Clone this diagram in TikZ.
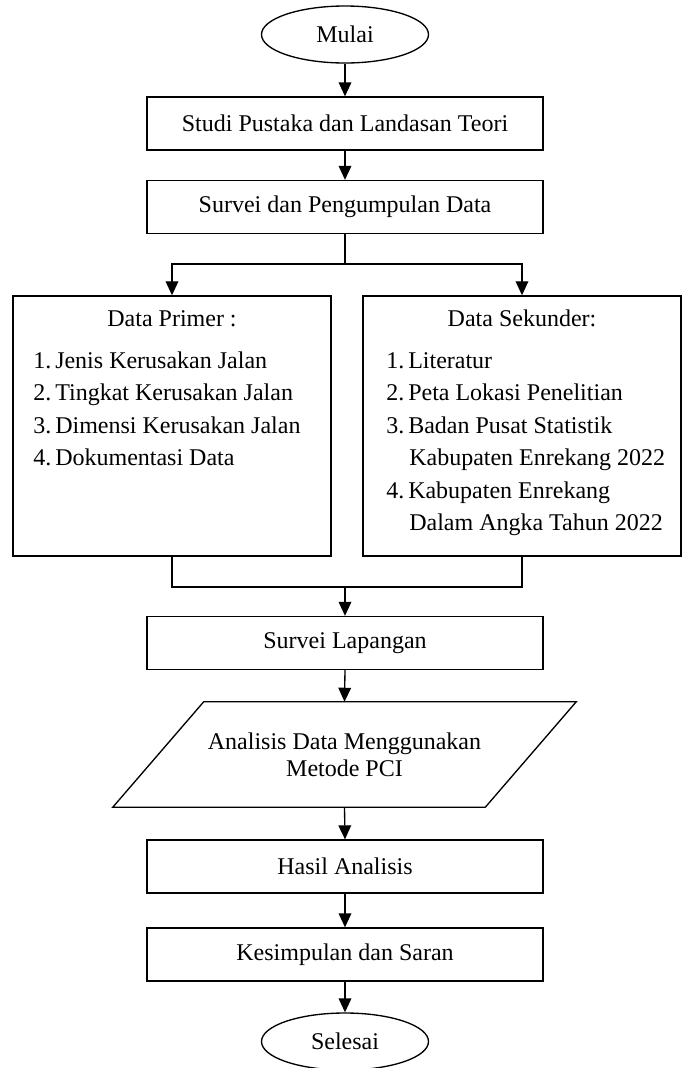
\documentclass[tikz,border=0pt]{standalone}
\usepackage{fontspec}
\setmainfont{Liberation Serif}
\usetikzlibrary{shapes.geometric,arrows.meta}
\begin{document}
\begin{tikzpicture}[x=0.75pt,y=-0.75pt,
  every node/.style={font=\fontsize{18}{24.4}\selectfont, inner sep=0pt},
  line/.style={line width=1pt},
  arr/.style={line width=1pt,-{Triangle[length=10.5pt,width=9.5pt]}},
  procbox/.style={draw,line width=1pt,rectangle,minimum width=297pt,minimum height=39.75pt},
  bigbox/.style={draw,line width=1.1pt,rectangle,minimum width=238.5pt,minimum height=195pt},
  term/.style={draw,line width=1pt,ellipse,minimum width=125.25pt,minimum height=42.75pt},
  item/.style={anchor=west,text height=0.7em,text depth=0.22em}]
\useasboundingbox (0,0) rectangle (686,1068);

\node[term] (mulai) at (345,34.5) {Mulai};
\node[procbox] (studi) at (345,123.5) {Studi Pustaka dan Landasan Teori};
\node[procbox] (survei) at (345,207) {Survei dan Pengumpulan Data};

\node[bigbox] (primer) at (172,426) {};
\node[bigbox] (sekunder) at (522,426) {};

\node[text height=0.7em,text depth=0.22em] (ph) at (172,323) {Data Primer :};
\node[item] (p1) at (33,365) {1.\,Jenis Kerusakan Jalan};
\node[item] (p2) at (33,397.5) {2.\,Tingkat Kerusakan Jalan};
\node[item] (p3) at (33,430) {3.\,Dimensi Kerusakan Jalan};
\node[item] (p4) at (33,462.5) {4.\,Dokumentasi Data};

\node[text height=0.7em,text depth=0.22em] (sh) at (522,323) {Data Sekunder:};
\node[item] (s1) at (386,365) {1.\,Literatur};
\node[item] (s2) at (386,397.5) {2.\,Peta Lokasi Penelitian};
\node[item] (s3) at (386,430) {3.\,Badan Pusat Statistik};
\node[item] (s3b) at (409,462.5) {Kabupaten Enrekang 2022};
\node[item] (s4) at (386,495) {4.\,Kabupaten Enrekang};
\node[item] (s4b) at (409,527.5) {Dalam Angka Tahun 2022};

\node[procbox] (lapangan) at (345,643) {Survei Lapangan};
\node[minimum width=210.75pt,minimum height=78.75pt,align=center,
      font=\fontsize{18}{20.25}\selectfont] (ana) at (344.5,754.5)
      {Analisis Data Menggunakan\\Metode PCI};
\draw[line] (ana.north west) -- ([xshift=68.25pt]ana.north east) -- (ana.south east)
  -- ([xshift=-68.25pt]ana.south west) -- cycle;
\node[procbox] (hasil) at (345,866.5) {Hasil Analisis};
\node[procbox] (kesimpulan) at (345,954.5) {Kesimpulan dan Saran};
\node[term] (selesai) at (345,1041.5) {Selesai};

\coordinate (split) at (345,264);
\coordinate (join) at (345,587);

\draw[arr] (mulai) -- (studi);
\draw[arr] (studi) -- (survei);
\draw[line] (survei.south) -- (split);
\draw[arr] (split) -| (primer.north);
\draw[arr] (split) -| (sekunder.north);
\draw[line] (primer.south) |- (join);
\draw[line] (sekunder.south) |- (join);
\draw[arr] (join) -- (lapangan.north);
\draw[arr] (lapangan.south) -- (ana.north);
\draw[arr] (ana.south) -- (hasil.north);
\draw[arr] (hasil) -- (kesimpulan);
\draw[arr] (kesimpulan) -- (selesai);
\end{tikzpicture}
\end{document}
